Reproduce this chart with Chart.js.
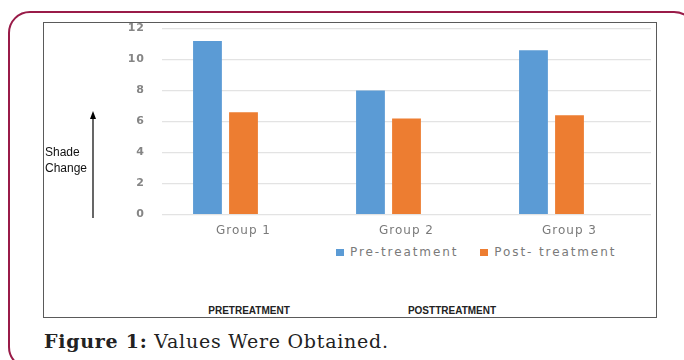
<!DOCTYPE html>
<html>
<head>
<meta charset="utf-8">
<script src="https://cdn.jsdelivr.net/npm/chart.js@4.4.1/dist/chart.umd.min.js"></script>
<style>
  body { margin: 0; width: 684px; height: 360px; overflow: hidden; background: #fff; position: relative; }
  #frame { position: absolute; left: 8px; top: 11px; width: 684px; height: 354px; border: 2px solid #991b48; border-radius: 22px; }
  #box { position: absolute; left: 43px; top: 22px; width: 612px; height: 294px; border: 1px solid #5a5a5a; background: #fff; }
  #chartWrap { position: absolute; left: 0; top: 0; width: 612px; height: 215px; }
  #legend { position: absolute; left: 292px; top: 222px; margin: 0; padding: 0; list-style: none; display: flex;
            font-family: "DejaVu Sans", sans-serif; font-size: 12px; letter-spacing: 1.9px; color: #7a7a7a; }
  #legend li { display: flex; align-items: center; margin-right: 22px; height: 14px; }
  #legend span.box { display: inline-block; width: 8px; height: 7px; margin-right: 6px; }
  .side { position: absolute; font-family: "Liberation Sans", sans-serif; font-size: 12px; color: #111; line-height: 16px; }
  .phase { position: absolute; font-family: "Liberation Sans", sans-serif; font-weight: bold; font-size: 10px; color: #222; line-height: 12px; transform: translateX(-50%); }
  #caption { position: absolute; left: 44px; top: 330px; font-family: "DejaVu Serif", serif; font-size: 19px; letter-spacing: 0.75px; line-height: 22px; color: #222; }
</style>
</head>
<body>
<div id="frame"></div>
<div id="box">
  <div id="chartWrap"><canvas id="myChart"></canvas></div>
  <ul id="legend"></ul>
  <div class="side" style="left:1px; top:121px;">Shade<br>Change</div>
  <div class="phase" style="left:205px; top:282px;">PRETREATMENT</div>
  <div class="phase" style="left:408px; top:282px;">POSTTREATMENT</div>
</div>
<svg style="position:absolute; left:88px; top:108px;" width="12" height="112">
  <line x1="5" y1="8" x2="5" y2="110" stroke="#000" stroke-width="1.2"/>
  <polygon points="5,3 2,11 8,11" fill="#000"/>
</svg>
<div id="caption"><b>Figure 1:</b> Values Were Obtained.</div>

<script>
const groups = ['Group 1', 'Group 2', 'Group 3'];
const preTreatment = [11.2, 8.0, 10.6];
const postTreatment = [6.6, 6.2, 6.4];
const emptySeries = [null, null, null];
const yTicks = [0, 2, 4, 6, 8, 10, 12];

// legend drawn as html so it can sit where the original one sits
const htmlLegend = {
  id: 'htmlLegend',
  afterUpdate(chart) {
    const ul = document.getElementById('legend');
    ul.innerHTML = '';
    const items = chart.options.plugins.legend.labels.generateLabels(chart);
    items.filter(it => it.text).forEach(it => {
      const li = document.createElement('li');
      const box = document.createElement('span');
      box.className = 'box';
      box.style.background = it.fillStyle;
      li.appendChild(box);
      li.appendChild(document.createTextNode(it.text));
      ul.appendChild(li);
    });
  }
};

const spacing = {
  id: 'spacing',
  beforeDraw(chart) { chart.ctx.letterSpacing = '1px'; }
};

new Chart(document.getElementById('myChart'), {
  type: 'bar',
  data: {
    labels: groups,
    datasets: [
      { label: 'Pre-treatment', data: preTreatment, backgroundColor: '#5b9bd5' },
      { label: 'Post- treatment', data: postTreatment, backgroundColor: '#ed7d31' },
      { label: '', data: emptySeries, backgroundColor: '#a5a5a5' }
    ]
  },
  options: {
    responsive: true,
    maintainAspectRatio: false,
    animation: false,
    datasets: { bar: { categoryPercentage: 0.663, barPercentage: 0.8 } },
    layout: { padding: { top: 5.5, right: 5, left: 0, bottom: 0 } },
    plugins: {
      legend: { display: false },
      tooltip: { enabled: false }
    },
    scales: {
      x: {
        grid: { display: false, drawTicks: false },
        border: { display: false },
        ticks: { color: '#7a7a7a', padding: 9, font: { family: 'DejaVu Sans', size: 12 } },
        afterFit: s => { s.height = 23.5; }
      },
      y: {
        min: yTicks[0],
        max: yTicks[yTicks.length - 1],
        ticks: { stepSize: yTicks[1] - yTicks[0], color: '#858585', padding: 17,
                 font: { family: 'DejaVu Sans', size: 11, weight: 'bold' } },
        grid: { color: '#e3e3e3', lineWidth: 1.2, drawTicks: false },
        border: { display: false },
        afterFit: s => { s.width = 118; s.paddingTop = 0; s.paddingBottom = 0; }
      }
    }
  },
  plugins: [htmlLegend, spacing]
});
</script>
</body>
</html>
